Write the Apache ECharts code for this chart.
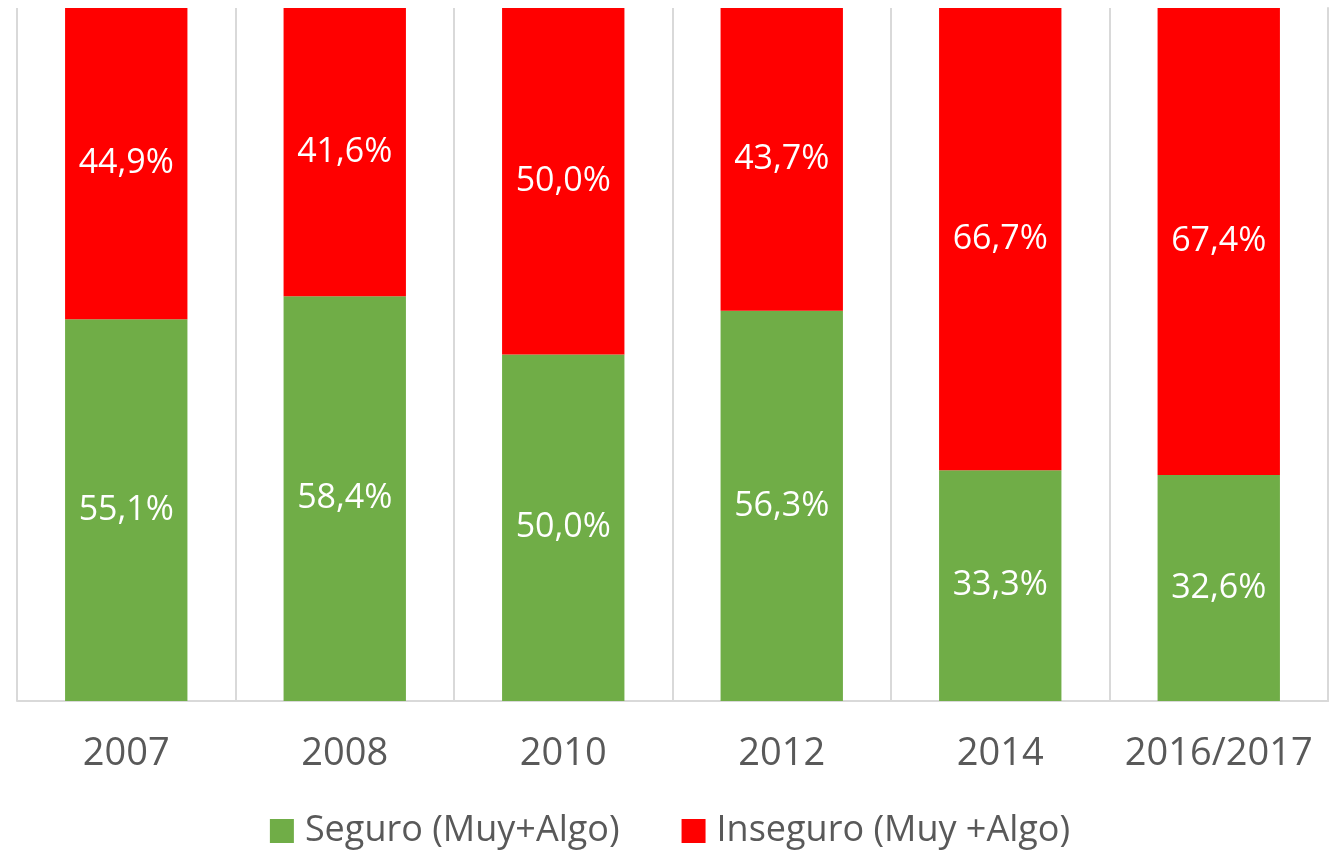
<!DOCTYPE html>
<html>
<head>
<meta charset="utf-8">
<script src="https://cdn.jsdelivr.net/npm/echarts@6/dist/echarts.min.js"></script>
<style>
  html, body { margin: 0; padding: 0; background: #fff; }
  #chart { width: 1340px; height: 850px; }
</style>
</head>
<body>
<div id="chart"></div>
<script>
// años de la encuesta
var years = ['2007', '2008', '2010', '2012', '2014', '2016/2017']
// porcentajes (apilados al 100%)
var seguro = [55.1, 58.4, 50.0, 56.3, 33.3, 32.6]
var inseguro = [44.9, 41.6, 50.0, 43.7, 66.7, 67.4]
var seriesNames = ['Seguro (Muy+Algo)', 'Inseguro (Muy +Algo)']

var font = '"Open Sans", "Noto Sans", sans-serif'
var gridColor = '#d9d9d9'
var textColor = '#595959'

function pct (p) {
  return p.value.toFixed(1).replace('.', ',') + '%'
}

var label = {
  show: true,
  position: 'inside',
  color: '#fff',
  fontFamily: font,
  fontSize: 34,
  formatter: pct
}

var chart = echarts.init(document.getElementById('chart'))
chart.setOption({
  animation: false,
  grid: { left: 17, right: 12, top: 8, bottom: 149 },
  legend: {
    data: seriesNames,
    top: 808,
    left: 'center',
    icon: 'rect',
    itemWidth: 24,
    itemHeight: 24,
    itemGap: 62,
    textStyle: { color: textColor, fontFamily: font, fontSize: 36, padding: [0, 0, 0, 6] }
  },
  xAxis: {
    type: 'category',
    data: years,
    axisLine: { lineStyle: { color: gridColor, width: 2 } },
    axisTick: { show: false },
    splitLine: { show: true, interval: 0, lineStyle: { color: gridColor, width: 2 } },
    axisLabel: { interval: 0, color: textColor, fontFamily: font, fontSize: 38, margin: 34 }
  },
  yAxis: {
    type: 'value',
    min: 0,
    max: 100,
    position: 'right', // solo para la línea del borde derecho
    axisLine: { show: true, lineStyle: { color: gridColor, width: 2 } },
    axisTick: { show: false },
    axisLabel: { show: false },
    splitLine: { show: false }
  },
  series: [
    {
      name: seriesNames[0],
      type: 'bar',
      stack: 'total',
      barWidth: '56%',
      itemStyle: { color: '#70AD47' },
      label: label,
      data: seguro
    },
    {
      name: seriesNames[1],
      type: 'bar',
      stack: 'total',
      barWidth: '56%',
      itemStyle: { color: '#FF0000' },
      label: label,
      data: inseguro
    }
  ]
})
</script>
</body>
</html>
